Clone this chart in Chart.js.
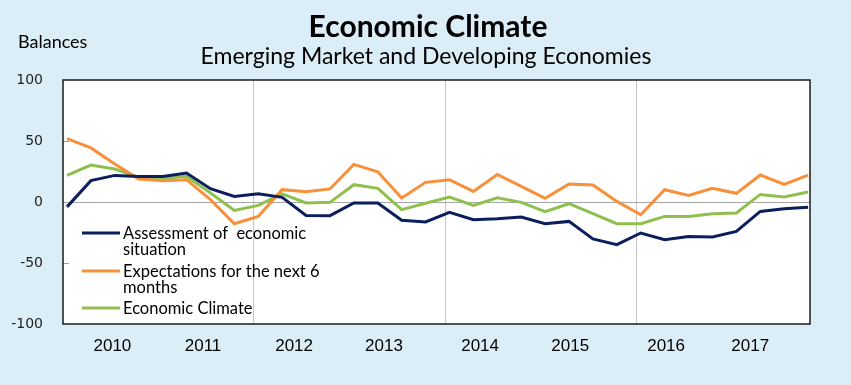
<!DOCTYPE html>
<html><head><meta charset="utf-8">
<script src="https://cdn.jsdelivr.net/npm/chart.js@4.4.0/dist/chart.umd.min.js"></script>
<style>html,body{margin:0;padding:0;background:#dbeef8;}#wrap{width:851px;height:385px;position:relative}</style>
</head><body><div id="wrap"><canvas id="c" width="851" height="385"></canvas></div>
<script>
const quarters = ['2010Q1','2010Q2','2010Q3','2010Q4','2011Q1','2011Q2','2011Q3','2011Q4',
  '2012Q1','2012Q2','2012Q3','2012Q4','2013Q1','2013Q2','2013Q3','2013Q4',
  '2014Q1','2014Q2','2014Q3','2014Q4','2015Q1','2015Q2','2015Q3','2015Q4',
  '2016Q1','2016Q2','2016Q3','2016Q4','2017Q1','2017Q2','2017Q3','2017Q4'];
const assessment = [-4, 17.5, 21.8, 21, 21, 23.8, 10.9, 4.6, 6.8, 3.8, -11, -11.2, -0.8, -0.8, -15, -16.4,
  -8.5, -14.5, -13.7, -12.3, -17.8, -15.9, -30.3, -35, -25.4, -30.9, -28.2, -28.7, -24.1, -7.7, -5.5, -4.4];
const expectations = [51.9, 44.3, 31.1, 18.9, 17.5, 18.3, 1.9, -17.8, -11.8, 10.1, 8.4, 10.7, 30.8, 24.8, 3.3, 16.1,
  18.3, 8.7, 22.6, 12.8, 3, 14.8, 13.9, 0.5, -10.4, 10.1, 5.4, 11.2, 7.1, 22.1, 14.4, 22.1];
const climate = [21.8, 30.3, 27, 20.2, 19.7, 21, 7.4, -6.9, -2.8, 6.6, -0.8, -0.3, 14.2, 11.2, -6.3, -1,
  4.1, -2.8, 3.5, -0.3, -8, -1.4, -9.6, -17.8, -17.8, -11.8, -11.8, -9.6, -9, 6.2, 4.1, 8.2];
const yearLabels = ['2010','2011','2012','2013','2014','2015','2016','2017'];
const seriesLabels = [['Assessment of  economic','situation'], ['Expectations for the next 6','months'], ['Economic Climate']];
const yTicks = [-100, -50, 0, 50, 100];

// layout (axis label placement in quarter units, as laid out in the reference)
const yearLabelPos = [1.9, 5.69, 9.5, 13.26, 17.28, 21.05, 25.06, 28.58];
const gridPos = [7.82, 15.82, 23.82];

const colors = ['#0b1f5e', '#f8903a', '#8fc04e'];
const toPts = arr => arr.map((v, i) => ({x: quarters.indexOf(quarters[i]), y: v}));

const decor = {
  id: 'decor',
  beforeDraw(chart) {
    const {ctx, chartArea: a} = chart;
    ctx.save();
    ctx.fillStyle = '#dbeef8';
    ctx.fillRect(0, 0, chart.width, chart.height);
    ctx.fillStyle = '#ffffff';
    ctx.fillRect(a.left, a.top, a.right - a.left, a.bottom - a.top);
    ctx.restore();
  },
  afterDraw(chart) {
    const {ctx, chartArea: a} = chart;
    const ys = chart.scales.y;
    ctx.save();
    ctx.strokeStyle = '#a0a0a0'; ctx.lineWidth = 1;
    [50, -50].forEach(v => {
      const y = Math.round(ys.getPixelForValue(v)) + 0.5;
      ctx.beginPath(); ctx.moveTo(a.left, y); ctx.lineTo(a.left + 6, y); ctx.stroke();
    });
    ctx.strokeStyle = '#1a1a1a'; ctx.lineWidth = 1.5;
    ctx.strokeRect(a.left, a.top, a.right - a.left, a.bottom - a.top);
    ctx.fillStyle = '#000';
    ctx.textAlign = 'center'; ctx.textBaseline = 'alphabetic';
    ctx.font = 'bold 30px Lato';
    ctx.fillText('Economic Climate', 428, 37);
    ctx.font = '23px Lato';
    ctx.fillText('Emerging Market and Developing Economies', 426, 64);
    ctx.textAlign = 'left';
    ctx.font = '18px Lato';
    ctx.fillText('Balances', 18, 48);
    const base = [239, 277, 314];
    ctx.font = '16.5px Lato';
    chart.data.datasets.forEach((ds, i) => {
      const b = base[i];
      ctx.strokeStyle = ds.borderColor; ctx.lineWidth = 3;
      ctx.beginPath(); ctx.moveTo(82, b - 6); ctx.lineTo(120, b - 6); ctx.stroke();
      ctx.fillStyle = '#000';
      const lines = Array.isArray(ds.label) ? ds.label : [ds.label];
      lines.forEach((t, j) => ctx.fillText(t, 123, b + j * 16));
    });
    ctx.restore();
  }
};

new Chart(document.getElementById('c'), {
  type: 'line',
  data: {
    datasets: [assessment, expectations, climate].map((d, i) => ({
      label: seriesLabels[i], data: toPts(d), borderColor: colors[i], backgroundColor: colors[i],
      borderWidth: 3, pointRadius: 0, tension: 0, fill: false
    }))
  },
  options: {
    responsive: false, animation: false, devicePixelRatio: 1,
    layout: {padding: {top: 80, right: 41, left: 0, bottom: 0}},
    plugins: {legend: {display: false}, tooltip: {enabled: false}},
    scales: {
      x: {
        type: 'linear', min: -0.167, max: 31.08,
        afterBuildTicks(axis) {
          const t = yearLabelPos.map((p, i) => ({value: p, _lbl: yearLabels[i]}))
            .concat(gridPos.map(p => ({value: p, _grid: true})));
          t.sort((p, q) => p.value - q.value);
          axis.ticks = t;
        },
        afterFit(s) { s.height = 61; },
        ticks: {
          autoSkip: false, maxRotation: 0, padding: 12, color: '#000',
          font: {family: 'Liberation Sans', size: 17},
          callback: (v, i, t) => t[i]._lbl || ''
        },
        grid: {drawTicks: false, lineWidth: 1, color: c => (c.tick && c.tick._grid) ? '#c4c4c4' : 'rgba(0,0,0,0)'},
        border: {display: false}
      },
      y: {
        min: -100, max: 100,
        afterBuildTicks(axis) { axis.ticks = yTicks.map(v => ({value: v})); },
        afterFit(s) { s.width = 63; },
        ticks: {padding: 20, color: '#222', font: {family: 'DejaVu Sans', size: 14}},
        grid: {drawTicks: false, lineWidth: 1, color: c => (c.tick && c.tick.value === 0) ? '#a6a6a6' : 'rgba(0,0,0,0)'},
        border: {display: false}
      }
    }
  },
  plugins: [decor]
});
</script></body></html>
